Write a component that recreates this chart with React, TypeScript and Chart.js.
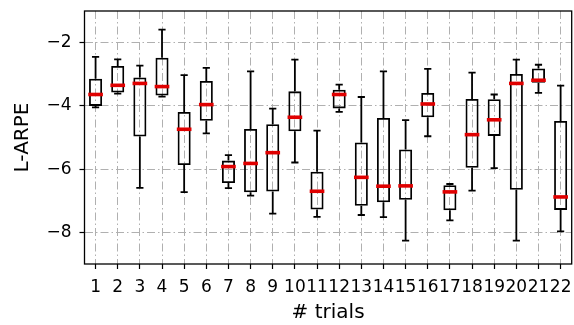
import React, { useEffect, useRef } from 'react';
import { Chart, registerables } from 'chart.js';

Chart.register(...registerables);

const categories = ['1','2','3','4','5','6','7','8','9','10','11','12','13','14','15','16','17','18','19','20','21','22'];
const whiskerLow = [-4.05, -3.61, -6.59, -3.71, -6.73, -4.87, -6.60, -6.84, -7.41, -5.79, -7.51, -4.19, -7.45, -7.52, -8.26, -4.96, -7.62, -6.68, -5.97, -8.26, -3.59, -7.97];
const q1 = [-4.00, -3.58, -4.97, -3.67, -5.87, -4.47, -6.44, -6.73, -6.71, -4.80, -7.28, -4.08, -7.16, -7.05, -6.97, -4.36, -7.30, -5.96, -4.95, -6.65, -3.27, -7.29];
const median = [-3.64, -3.35, -3.29, -3.39, -4.74, -3.96, -5.92, -5.82, -5.48, -4.36, -6.70, -3.64, -6.26, -6.54, -6.53, -3.94, -6.72, -4.91, -4.44, -3.29, -3.19, -6.88];
const q3 = [-3.14, -2.74, -3.10, -2.48, -4.19, -3.21, -5.73, -4.73, -4.58, -3.54, -6.08, -3.49, -5.16, -4.38, -5.38, -3.59, -6.51, -3.78, -3.79, -2.99, -2.82, -4.48];
const whiskerHigh = [-2.45, -2.53, -2.73, -1.59, -3.03, -2.80, -5.56, -2.91, -4.09, -2.54, -4.78, -3.33, -3.72, -2.91, -4.45, -2.83, -6.47, -2.95, -3.64, -2.54, -2.70, -3.36];
const yTicks = [-8, -6, -4, -2];
const yMin = -9;
const yMax = -1;
const xTitle = '# trials';
const yTitle = 'L-ARPE';

const FONT = "'DejaVu Sans', sans-serif";
const GRID_DASH = [8, 3, 1.5, 3];

const boxPlugin = {
  id: 'boxExtras',
  afterDatasetsDraw(chart: any) {
    const ctx = chart.ctx;
    const xs = chart.scales.x;
    const ys = chart.scales.y;
    const meta = chart.getDatasetMeta(0);
    ctx.save();
    categories.forEach((_, i) => {
      const el = meta.data[i];
      const cx = xs.getPixelForValue(i);
      const hw = el ? el.width / 2 : 6.5;
      const capHalf = hw * 0.55;
      ctx.strokeStyle = '#000';
      ctx.lineWidth = 1.8;
      ctx.lineCap = 'butt';
      ctx.beginPath();
      ctx.moveTo(cx, ys.getPixelForValue(q3[i]));
      ctx.lineTo(cx, ys.getPixelForValue(whiskerHigh[i]));
      ctx.moveTo(cx, ys.getPixelForValue(q1[i]));
      ctx.lineTo(cx, ys.getPixelForValue(whiskerLow[i]));
      ctx.stroke();
      ctx.beginPath();
      const yh = ys.getPixelForValue(whiskerHigh[i]);
      const yl = ys.getPixelForValue(whiskerLow[i]);
      ctx.moveTo(cx - capHalf, yh);
      ctx.lineTo(cx + capHalf, yh);
      ctx.moveTo(cx - capHalf, yl);
      ctx.lineTo(cx + capHalf, yl);
      ctx.stroke();
      const ym = ys.getPixelForValue(median[i]);
      ctx.strokeStyle = '#e00000';
      ctx.lineWidth = 3.6;
      ctx.beginPath();
      ctx.moveTo(cx - hw - 0.8, ym);
      ctx.lineTo(cx + hw + 0.8, ym);
      ctx.stroke();
    });
    const a = chart.chartArea;
    ctx.strokeStyle = '#000';
    ctx.lineWidth = 1.3;
    ctx.strokeRect(a.left, a.top, a.right - a.left, a.bottom - a.top);
    ctx.restore();
  },
};

export default function App() {
  const ref = useRef<HTMLCanvasElement | null>(null);
  useEffect(() => {
    if (!ref.current) return;
    const chart = new Chart(ref.current, {
      type: 'bar',
      data: {
        labels: categories,
        datasets: [
          {
            data: q1.map((v, i) => [v, q3[i]]) as any,
            backgroundColor: 'rgba(0,0,0,0)',
            borderColor: '#000',
            borderWidth: 1.8,
            borderSkipped: false,
            barPercentage: 0.59,
            categoryPercentage: 1,
            grouped: false,
          } as any,
        ],
      },
      options: {
        animation: false,
        responsive: false,
        maintainAspectRatio: false,
        layout: { padding: { top: 11, right: 2.3, bottom: 0, left: 0 } },
        plugins: { legend: { display: false }, tooltip: { enabled: false } },
        scales: {
          x: {
            offset: true,
            grid: {
              offset: false,
              color: '#b0b0b0',
              lineWidth: 1,
              drawTicks: true,
              tickLength: 5,
              tickColor: '#000',
              tickWidth: 1.2,
              tickBorderDash: [],
            } as any,
            border: { display: false, dash: GRID_DASH },
            ticks: {
              autoSkip: false,
              maxRotation: 0,
              minRotation: 0,
              padding: 8,
              color: '#000',
              font: { family: FONT, size: 17 },
            },
            title: {
              display: true,
              text: xTitle,
              color: '#000',
              font: { family: FONT, size: 20 },
              padding: { top: 0, bottom: 0 },
            },
            afterFit: (s: any) => { s.height = 61; s.paddingLeft = 0; s.paddingRight = 0; },
          },
          y: {
            min: yMin,
            max: yMax,
            afterBuildTicks: (s: any) => { s.ticks = yTicks.map((v) => ({ value: v })); },
            grid: {
              color: '#b0b0b0',
              lineWidth: 1,
              drawTicks: true,
              tickLength: 5,
              tickColor: '#000',
              tickWidth: 1.2,
              tickBorderDash: [],
            } as any,
            border: { display: false, dash: GRID_DASH },
            ticks: {
              padding: 8,
              color: '#000',
              font: { family: FONT, size: 17 },
              callback: (v: any) => String(v).replace('-', '\u2212'),
            },
            title: {
              display: true,
              text: yTitle,
              color: '#000',
              font: { family: FONT, size: 20 },
              padding: { top: 11, bottom: 0 },
            },
            afterFit: (s: any) => { s.width = 84.5; s.paddingTop = 0; s.paddingBottom = 0; },
          },
        },
      },
      plugins: [boxPlugin],
    });
    return () => chart.destroy();
  }, []);
  return (
    <div style={{ position: 'fixed', left: 0, top: 0, width: 574, height: 325, background: '#fff' }}>
      <canvas ref={ref} width={574} height={325} style={{ display: 'block' }} />
    </div>
  );
}
